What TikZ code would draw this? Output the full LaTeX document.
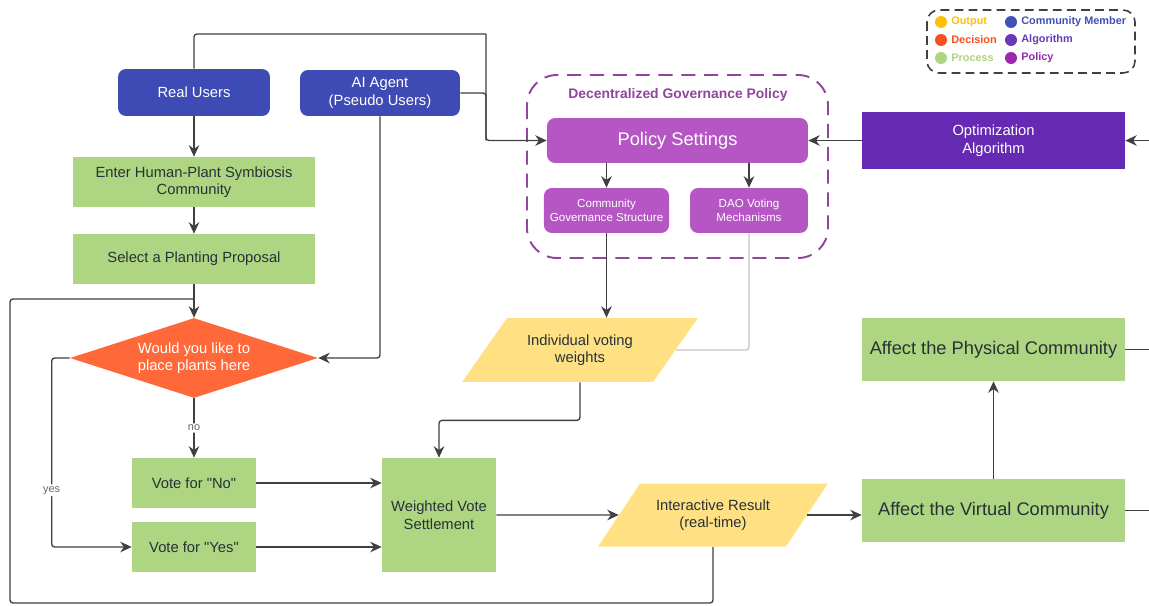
\documentclass[tikz,border=0pt]{standalone}
\usepackage{fontspec}
\setmainfont{Liberation Sans}
\usetikzlibrary{shapes.geometric,arrows.meta}

\definecolor{process}{HTML}{AED581}
\definecolor{decision}{HTML}{FF6838}
\definecolor{output}{HTML}{FFE082}
\definecolor{member}{HTML}{3F4BB5}
\definecolor{policy}{HTML}{B556C4}
\definecolor{algo}{HTML}{6529B3}
\definecolor{txt}{HTML}{263238}
\definecolor{wire}{HTML}{404040}

\newcommand{\fsbox}{\fontsize{8.4}{10}\selectfont}
\newcommand{\fsbig}{\fontsize{10.4}{12}\selectfont}
\newcommand{\fssmall}{\fontsize{6.6}{8}\selectfont}
\newcommand{\fslegend}{\fontsize{6.2}{7}\selectfont\bfseries}

\begin{document}
\begin{tikzpicture}[x=0.02cm,y=-0.02cm,
    proc/.style={rectangle,fill=process,text=txt,align=center,font=\fsbox},
    user/.style={rectangle,rounded corners=0.16cm,fill=member,text=white,align=center,font=\fsbox},
    pol/.style={rectangle,rounded corners=0.16cm,fill=policy,text=white,align=center,font=\fssmall},
    io/.style={trapezium,trapezium left angle=50,trapezium right angle=130,trapezium stretches=true,
        fill=output,text=txt,align=center,font=\fsbox},
    link/.style={draw=wire,line width=0.75pt,rounded corners=0.06cm},
    arrow/.style={link,-{Stealth[length=6.5pt,width=6pt]}},
    lab/.style={fill=white,text=wire!80,font=\fontsize{6.2}{7}\selectfont,inner sep=1pt}
]
    \useasboundingbox (0,0) rectangle (1149,605);
    \fill[white] (0,0) rectangle (1149,605);

    % left column
    \node[user,minimum width=3.04cm,minimum height=0.94cm] (ru) at (194,92.5) {Real Users};
    \node[user,minimum width=3.2cm,minimum height=0.92cm] (ai) at (380,93) {AI Agent\\(Pseudo Users)};
    \node[proc,minimum width=4.84cm,minimum height=1cm] (ent) at (194,182) {Enter Human-Plant Symbiosis\\Community};
    \node[proc,minimum width=4.84cm,minimum height=1cm] (sel) at (194,259) {Select a Planting Proposal};
    \node[diamond,aspect=3.1,minimum width=4.96cm,minimum height=1.6cm,inner sep=0pt,
        fill=decision,text=white,align=center,font=\fsbox] (dm) at (194,358) {Would you like to\\place plants here};
    \node[proc,minimum width=2.48cm,minimum height=1cm] (vn) at (194,483) {Vote for \textquotedbl No\textquotedbl};
    \node[proc,minimum width=2.48cm,minimum height=1cm] (vy) at (194,547) {Vote for \textquotedbl Yes\textquotedbl};
    \node[proc,minimum width=2.28cm,minimum height=2.28cm] (wvs) at (439,515) {Weighted Vote\\Settlement};

    % governance policy
    \draw[policy!80!black,line width=1.1pt,dash pattern=on 8pt off 5pt,rounded corners=0.6cm]
        (527,75) rectangle (828,258);
    \node[text=policy!80!black,font=\fontsize{7.9}{9}\selectfont\bfseries] (gov) at (678,95) {Decentralized Governance Policy};
    \node[pol,font=\fsbig,minimum width=5.22cm,minimum height=0.9cm] (ps) at (677.5,140.5) {Policy Settings};
    \node[pol,minimum width=2.38cm,minimum height=0.9cm] (cgs) at (606.5,210.5) {Community\\Governance Structure};
    \node[pol,minimum width=2.36cm,minimum height=0.9cm] (dao) at (749,210.5) {DAO Voting\\Mechanisms};
    \node[io,minimum width=4.72cm,minimum height=1.28cm] (ivw) at (580,350) {Individual voting\\weights};
    \node[io,minimum width=4.6cm,minimum height=1.26cm] (ires) at (713,515) {Interactive Result\\(real-time)};

    % right column
    \node[rectangle,fill=algo,text=white,align=center,font=\fsbox,minimum width=5.26cm,minimum height=1.14cm] (opt) at (993.5,140.5) {Optimization\\Algorithm};
    \node[proc,font=\fsbig,minimum width=5.26cm,minimum height=1.26cm] (phy) at (993.5,349.5) {Affect the Physical Community};
    \node[proc,font=\fsbig,minimum width=5.26cm,minimum height=1.26cm] (vir) at (993.5,510.5) {Affect the Virtual Community};

    % legend
    \draw[wire,line width=0.9pt,dash pattern=on 5pt off 3pt,rounded corners=0.24cm] (927,10) rectangle (1135,73);
    \foreach \col/\id/\txt/\x/\y in {FFC107/out/Output/941/22, F4511E/dec/Decision/941/40, AED581/pro/Process/941/58,
        3F51B5/mem/Community Member/1011/22, 673AB7/alg/Algorithm/1011/40, 9C27B0/pol/Policy/1011/58} {
        \definecolor{lgc}{HTML}{\col}
        \fill[lgc] (\x,\y) circle (0.12cm);
        \node[anchor=west,text=lgc,font=\fslegend,inner sep=0pt] (lg-\id) at (\x+10,\y) {\txt};
    }

    % connectors
    \coordinate (top) at (486,34);
    \coordinate (loop) at (10,603);
    \coordinate (merge) at (194,299);
    \coordinate (rOpt) at (1149,140.5);
    \coordinate (rPhy) at (1149,349.5);
    \coordinate (rVir) at (1149,510.5);

    \draw[link] (ru.north) |- (top);
    \draw[arrow] (top) |- (ps.west);
    \draw[link] (ai.east) -- (ai.east -| top) -- (top |- ps.west);
    \draw[arrow] (ru) -- (ent);
    \draw[arrow] (ent) -- (sel);
    \draw[arrow] (sel) -- (dm);
    \draw[link] (ires.south) |- (loop) |- (merge);
    \draw[arrow] (ai.south) |- (dm.east);
    \draw[arrow] (dm.south) -- node[lab] {no} (vn.north);
    \draw[arrow] (dm.west) -- ++(-18,0) |- node[lab,pos=0.35] {yes} (vy.west);
    \draw[arrow] (vn.east) -- (vn.east -| wvs.west);
    \draw[arrow] (vy.east) -- (vy.east -| wvs.west);
    \draw[arrow] (cgs.north |- ps.south) -- (cgs.north);
    \draw[arrow] (dao.north |- ps.south) -- (dao.north);
    \draw[arrow] (cgs.south) -- (cgs.south |- ivw.north);
    \draw[link,draw=gray!45] (dao.south) |- (ivw.east);
    \draw[arrow] (ivw.south) -- ++(0,38) -| (wvs.north);
    \draw[arrow] (opt.west) -- (ps.east);
    \draw[arrow] (rOpt) -- (opt.east);
    \draw[link] (phy.east) -- (rPhy);
    \draw[link] (vir.east) -- (rVir);
    \draw[arrow] (wvs.east) -- (ires.west);
    \draw[arrow] (ires.east) -- (ires.east -| vir.west);
    \draw[arrow] (vir) -- (phy);
\end{tikzpicture}
\end{document}
